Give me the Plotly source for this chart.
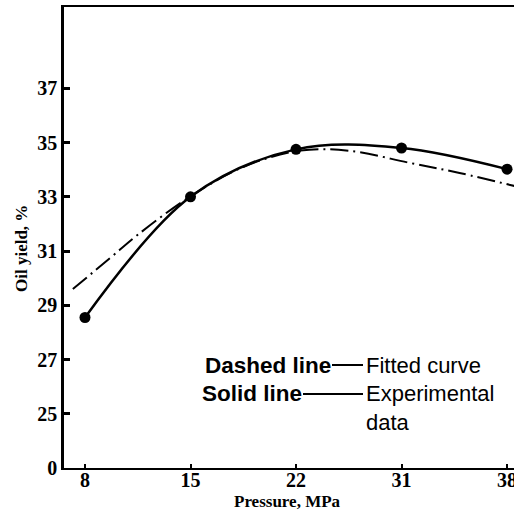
import plotly.graph_objects as go

# ---- data ----
pressure_labels = ["8", "15", "22", "31", "38"]          # x tick labels (evenly spaced categories)
pressure_pos = [0, 1, 2, 3, 4]                            # category positions
oil_yield_exp = [28.55, 33.0, 34.75, 34.8, 34.02]        # experimental data (solid line + dots)

# fitted curve read at positions along the category axis
fit_pos = [-0.115, 0.24, 0.5, 1.0, 1.5, 2.03, 2.5, 3.08, 3.55, 4.07]
fit_yield = [29.6, 30.75, 31.6, 33.02, 34.1, 34.7, 34.7, 34.25, 33.88, 33.4]

ytick_vals = [23, 25, 27, 29, 31, 33, 35, 37]
ytick_text = ["0", "25", "27", "29", "31", "33", "35", "37"]

W, H = 514, 518
ML, MR, MT, MB = 64, 0, 7, 50
PW, PH = W - ML - MR, H - MT - MB


def px(x):
    return (x - ML) / PW


def py(y):
    return (H - MB - y) / PH


fig = go.Figure()
fig.add_trace(go.Scatter(
    x=fit_pos, y=fit_yield, mode="lines",
    line=dict(color="black", width=2, dash="18px,5px,2px,5px", shape="spline", smoothing=1),
    showlegend=False, hoverinfo="skip"))
fig.add_trace(go.Scatter(
    x=pressure_pos, y=oil_yield_exp, mode="lines+markers",
    line=dict(color="black", width=2.5, shape="spline", smoothing=1),
    marker=dict(color="black", size=11),
    showlegend=False))

tick_font = dict(family="Liberation Serif", size=20, color="black", weight="bold")

fig.update_layout(
    width=W, height=H,
    margin=dict(l=ML, r=MR, t=MT, b=MB, pad=0),
    paper_bgcolor="white", plot_bgcolor="white",
    xaxis=dict(range=[-0.199, 4.066], tickvals=pressure_pos, ticktext=pressure_labels,
               showline=True, linecolor="black", linewidth=2, mirror=True,
               ticks="inside", ticklen=4, tickwidth=2, tickcolor="black",
               showgrid=False, zeroline=False, tickfont=tick_font, automargin=False,
               ticklabeloverflow="allow", ticklabelstandoff=-7),
    yaxis=dict(range=[23, 40], tickvals=ytick_vals, ticktext=ytick_text,
               showline=True, linecolor="black", linewidth=2.5,
               ticks="inside", ticklen=6, tickwidth=2.5, tickcolor="black",
               showgrid=False, zeroline=False, tickfont=tick_font, automargin=False,
               ticklabeloverflow="allow"),
)

title_font = dict(family="Liberation Serif", size=17, color="black", weight="bold")
text_font = dict(family="Liberation Sans", size=22, color="black")
bold_font = dict(family="Liberation Sans", size=22.5, color="black", weight="bold")

annos = [
    dict(text="Pressure, MPa", x=px(287), y=py(501), xanchor="center", yanchor="middle", font=title_font),
    dict(text="Oil yield, %", x=px(21), y=py(249), xanchor="center", yanchor="middle",
         textangle=-90, font=title_font),
    dict(text="Dashed line", x=px(333), y=py(365), xanchor="right", yanchor="middle", font=bold_font),
    dict(text="Solid line", x=px(304), y=py(393), xanchor="right", yanchor="middle", font=bold_font),
    dict(text="Fitted curve", x=px(364), y=py(366), xanchor="left", yanchor="middle", font=text_font),
    dict(text="Experimental", x=px(364), y=py(393), xanchor="left", yanchor="middle", font=text_font),
    dict(text="data", x=px(364), y=py(422), xanchor="left", yanchor="middle", font=text_font),
]
for a in annos:
    fig.add_annotation(xref="paper", yref="paper", showarrow=False, **a)

fig.add_shape(type="line", xref="paper", yref="paper", x0=px(332), x1=px(363), y0=py(365), y1=py(365),
              line=dict(color="black", width=2))
fig.add_shape(type="line", xref="paper", yref="paper", x0=px(303), x1=px(363), y0=py(394), y1=py(394),
              line=dict(color="black", width=2))

fig.write_html("out.html")
